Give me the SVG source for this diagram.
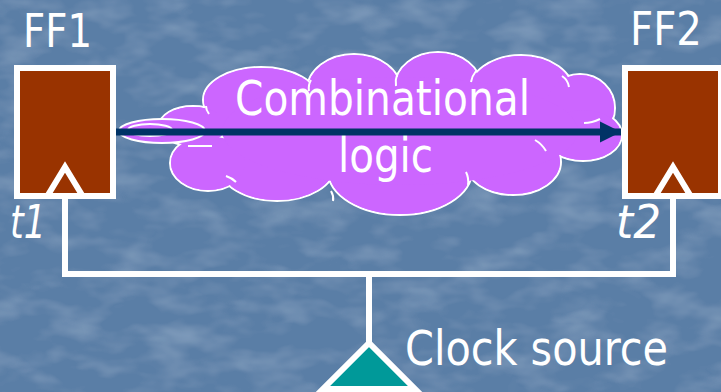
<svg xmlns="http://www.w3.org/2000/svg" width="721" height="392" viewBox="0 0 721 392">
  <defs>
    <filter id="water" x="0" y="0" width="100%" height="100%">
      <feTurbulence type="fractalNoise" baseFrequency="0.02 0.04" numOctaves="3" seed="7" result="n"/>
      <feColorMatrix in="n" type="matrix" values="0 0 0 0 0.46  0 0 0 0 0.60  0 0 0 0 0.76  0.6 0 0 0 -0.27" result="light"/>
      <feColorMatrix in="n" type="matrix" values="0 0 0 0 0.30  0 0 0 0 0.43  0 0 0 0 0.60  0 -0.6 0 0 0.22" result="dark"/>
      <feMerge>
        <feMergeNode in="SourceGraphic"/>
        <feMergeNode in="light"/>
        <feMergeNode in="dark"/>
      </feMerge>
    </filter>
    <marker id="head" viewBox="0 0 10 10" refX="10" refY="5" markerWidth="3" markerHeight="3.3" markerUnits="strokeWidth" orient="auto">
      <path d="M0,0 L10,5 L0,10 z" fill="#003366"/>
    </marker>
  </defs>
  <style>
    .lbl { font-family: "DejaVu Sans Condensed", "DejaVu Sans", "Liberation Sans", sans-serif; fill: #ffffff; }
    .ff { fill: #993300; stroke: #ffffff; stroke-width: 6; }
    .clk { fill: none; stroke: #ffffff; stroke-width: 6; stroke-linejoin: miter; }
    .wire { fill: none; stroke: #ffffff; stroke-width: 6; }
    .puff { fill: #cc66ff; stroke: #ffffff; stroke-width: 2; }
    .puffin { fill: #cc66ff; stroke: none; }
    .crease { fill: none; stroke: #ffffff; stroke-width: 2; }
  </style>

  <!-- background -->
  <rect width="721" height="392" fill="#5a7ea6" filter="url(#water)"/>

  <!-- combinational logic cloud -->
  <g id="cloud">
    <g class="puff">
      <ellipse cx="261" cy="100" rx="58" ry="33"/>
      <ellipse cx="354" cy="90" rx="47" ry="36"/>
      <ellipse cx="438" cy="86" rx="43" ry="34"/>
      <ellipse cx="521" cy="93" rx="53" ry="38"/>
      <ellipse cx="580" cy="108" rx="35" ry="34"/>
      <ellipse cx="583" cy="135" rx="39" ry="26"/>
      <ellipse cx="513" cy="162" rx="48" ry="33"/>
      <ellipse cx="400" cy="171" rx="72" ry="44"/>
      <ellipse cx="277" cy="166" rx="58" ry="35"/>
      <ellipse cx="208" cy="163" rx="38" ry="28"/>
      <ellipse cx="193" cy="126" rx="34" ry="20"/>
    </g>
    <g class="puffin">
      <ellipse cx="261" cy="100" rx="57" ry="32"/>
      <ellipse cx="354" cy="90" rx="46" ry="35"/>
      <ellipse cx="438" cy="86" rx="42" ry="33"/>
      <ellipse cx="521" cy="93" rx="52" ry="37"/>
      <ellipse cx="580" cy="108" rx="34" ry="33"/>
      <ellipse cx="583" cy="135" rx="38" ry="25"/>
      <ellipse cx="513" cy="162" rx="47" ry="32"/>
      <ellipse cx="400" cy="171" rx="71" ry="43"/>
      <ellipse cx="277" cy="166" rx="57" ry="34"/>
      <ellipse cx="208" cy="163" rx="37" ry="27"/>
      <ellipse cx="193" cy="126" rx="33" ry="19"/>
      <ellipse cx="400" cy="131" rx="178" ry="54"/>
    </g>
    <!-- inner crease arcs where the puffs meet -->
    <g class="crease">
      <path d="M206,106 Q206,110 209,114"/>
      <path d="M311,80 Q308,85 309,91"/>
      <path d="M397,75 Q395,80 396,86"/>
      <path d="M476,71 Q472,76 471,82"/>
      <path d="M562,76 Q568,80 569,87"/>
      <path d="M600,119 Q592,123 584,123"/>
      <path d="M546,151 Q542,144 535,140"/>
      <path d="M466,172 Q469,178 468,185"/>
      <path d="M331,191 Q334,196 333,201"/>
      <path d="M236,182 Q232,178 226,176"/>
      <path d="M188,146 L212,146"/>
    </g>
    <!-- small trailing puffs -->
    <ellipse class="puff" cx="162" cy="131" rx="43" ry="12"/>
    <ellipse cx="150" cy="130" rx="22" ry="6" fill="none" stroke="#ffffff" stroke-width="2"/>
    <text class="lbl" x="235" y="115" font-size="48" textLength="295" lengthAdjust="spacingAndGlyphs">Combinational</text>
    <text class="lbl" x="338" y="172" font-size="48" textLength="95" lengthAdjust="spacingAndGlyphs">logic</text>
  </g>

  <!-- clock wiring and data path -->
  <g id="connectors">
    <polyline class="wire" points="65,199 65,274 673,274 673,199"/>
    <line class="wire" x1="369" y1="274" x2="369" y2="342"/>
    <line x1="113" y1="132" x2="621" y2="132" stroke="#003366" stroke-width="7" marker-end="url(#head)"/>
  </g>

  <g id="ff1">
    <rect class="ff" x="17" y="68" width="96" height="128"/>
    <polyline class="clk" points="48,195 65,167 82,195"/>
    <text class="lbl" x="23" y="47" font-size="46" textLength="69" lengthAdjust="spacingAndGlyphs">FF1</text>
    <text class="lbl" x="10" y="238" font-size="46" font-style="italic" textLength="36" lengthAdjust="spacingAndGlyphs">t1</text>
  </g>

  <g id="ff2">
    <rect class="ff" x="625" y="68" width="96" height="128"/>
    <polyline class="clk" points="656,195 673,167 690,195"/>
    <text class="lbl" x="630" y="45" font-size="46" textLength="72" lengthAdjust="spacingAndGlyphs">FF2</text>
    <text class="lbl" x="616" y="238" font-size="46" font-style="italic" textLength="45" lengthAdjust="spacingAndGlyphs">t2</text>
  </g>

  <g id="clock-source">
    <polygon points="369,343 323,389 415,389" fill="#009999" stroke="#ffffff" stroke-width="6"/>
    <text class="lbl" x="405" y="365" font-size="48" textLength="263" lengthAdjust="spacingAndGlyphs">Clock source</text>
  </g>
</svg>
